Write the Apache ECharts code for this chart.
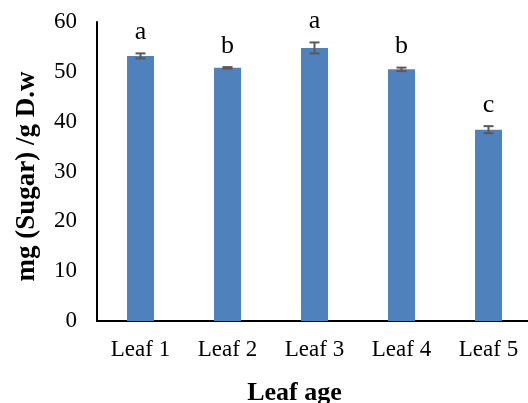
<!DOCTYPE html>
<html><head><meta charset="utf-8">
<script src="https://cdn.jsdelivr.net/npm/echarts@6/dist/echarts.min.js"></script>
<style>html,body{margin:0;padding:0;background:#fff}#c{width:528px;height:403px}</style>
</head><body><div id="c"></div>
<script>
const categories = ['Leaf 1','Leaf 2','Leaf 3','Leaf 4','Leaf 5'];
const sugarValues = [53.2, 50.8, 54.8, 50.5, 38.4];
const errorValues = [0.5, 0.15, 1.1, 0.35, 0.7];
const letters = ['a','b','a','b','c'];
const yTicks = [0,10,20,30,40,50,60];

const font = '"Liberation Serif", "Times New Roman", serif';
const chart = echarts.init(document.getElementById('c'));
const errData = categories.map((c,i)=>[i, sugarValues[i], errorValues[i], letters[i]]);
chart.setOption({
  animation:false,
  grid:{left:97, top:22, bottom:82, width:435, containLabel:false, outerBoundsMode:'none'},
  xAxis:{type:'category', data:categories,
    axisLine:{lineStyle:{color:'#000', width:2}}, axisTick:{show:false},
    axisLabel:{fontFamily:font, fontSize:23, color:'#000', margin:17},
    name:'Leaf age', nameLocation:'middle', nameGap:59,
    nameTextStyle:{fontFamily:font, fontSize:26, fontWeight:'bold', color:'#000', padding:[0,40,0,0]}},
  yAxis:{type:'value', min:yTicks[0], max:yTicks[yTicks.length-1], interval:10,
    axisLine:{show:true, lineStyle:{color:'#000', width:2}}, axisTick:{show:false},
    splitLine:{show:false},
    axisLabel:{fontFamily:font, fontSize:23, color:'#000', margin:20},
    name:'mg (Sugar) /g D.w', nameLocation:'middle', nameGap:56,
    nameTextStyle:{fontFamily:font, fontSize:27, fontWeight:'bold', color:'#000', padding:[0,10,0,0]}},
  series:[
    {type:'bar', data:sugarValues, barWidth:27, itemStyle:{color:'#4F81BD'}},
    {type:'custom', data:errData, z:10,
     renderItem:function(params, api){
       const i = api.value(0), v = api.value(1), e = api.value(2);
       const hi = api.coord([i, v+e]), lo = api.coord([i, v-e]);
       const hw = 5;
       const st = {stroke:'#595959', lineWidth:2};
       return {type:'group', children:[
         {type:'line', shape:{x1:hi[0], y1:hi[1], x2:lo[0], y2:lo[1]}, style:st},
         {type:'line', shape:{x1:hi[0]-hw, y1:hi[1], x2:hi[0]+hw, y2:hi[1]}, style:st},
         {type:'line', shape:{x1:lo[0]-hw, y1:lo[1], x2:lo[0]+hw, y2:lo[1]}, style:st},
         {type:'text', x:hi[0], y:hi[1]-8, style:{text:letters[i], fill:'#000', font:'26px '+font, align:'center', verticalAlign:'bottom'}}
       ]};
     }}
  ]
});
</script></body></html>
